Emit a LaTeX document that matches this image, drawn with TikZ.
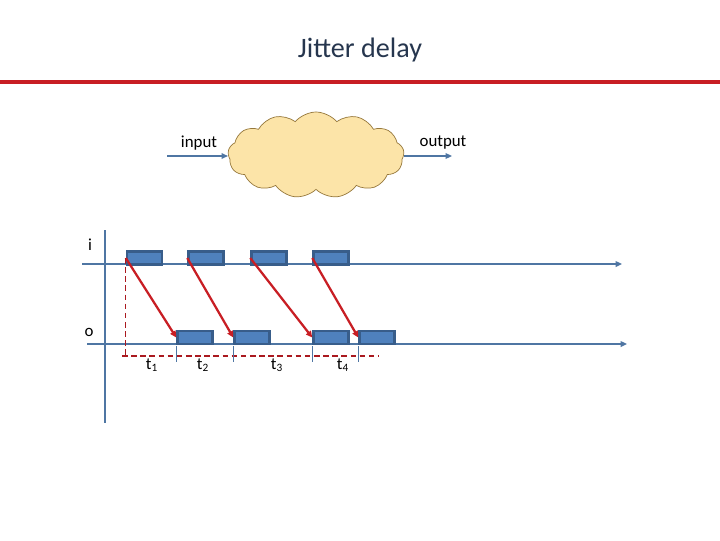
\documentclass[tikz,border=0pt]{standalone}
\usepackage{fontspec}
\setmainfont{Carlito}
\usepackage{xcolor}
\usepackage{tikz}
\usetikzlibrary{arrows.meta,positioning,shapes.symbols,calc}

\definecolor{axisblue}{RGB}{79,118,163}
\definecolor{boxfill}{RGB}{79,129,189}
\definecolor{boxline}{RGB}{56,93,138}
\definecolor{jitred}{RGB}{200,30,36}
\definecolor{cloudfill}{RGB}{252,228,168}
\definecolor{cloudline}{RGB}{150,120,60}
\definecolor{titlecol}{RGB}{38,54,78}

\begin{document}
\begin{tikzpicture}[x=0.025cm, y=-0.025cm,
    axis/.style={draw=axisblue, line width=1.4pt},
    arr/.style={axis, -{Triangle[length=1.6mm, width=1.4mm]}},
    pkt/.style={draw=boxline, fill=boxfill, line width=1.6pt,
                minimum width=0.88cm, minimum height=0.33cm, inner sep=0pt},
    delay/.style={draw=jitred, line width=1.6pt, -{Triangle[length=1.6mm, width=1.5mm]}},
    guide/.style={draw=jitred!85!black, dash pattern=on 4pt off 2.5pt, line width=0.75pt},
    tick/.style={draw=axisblue, line width=0.6pt},
    lbl/.style={font=\fontsize{12}{14}\selectfont, inner sep=1pt},
  ]
    \useasboundingbox (0,0) rectangle (720,540);

    % title and rule
    \node[font=\fontsize{20}{24}\selectfont, text=titlecol] (title) at (360,50) {Jitter delay};
    \coordinate (ruleL) at (0,82);
    \coordinate (ruleR) at (720,82);
    \draw[jitred, line width=2.2pt] (ruleL) -- (ruleR);

    % network cloud
    \node[cloud, cloud puffs=13, cloud puff arc=100, aspect=2.4, draw=cloudline,
          fill=cloudfill, line width=0.5pt, minimum width=4.4cm,
          minimum height=2.15cm, inner sep=0pt] (net) at (316,155) {};
    \coordinate (inS) at (167,156);
    \coordinate (outE) at (452,156);
    \draw[arr, line width=1pt] (inS) -- (net.west |- inS);
    \draw[arr, line width=1pt] (net.east |- outE) -- (outE);
    \node[lbl] (inlbl) at (199,143) {input};
    \node[lbl] (outlbl) at (443,143) {output};

    % axes
    \coordinate (vT) at (105,230);
    \coordinate (vB) at (105,423);
    \draw[axis] (vT) -- (vB);
    \coordinate (iL) at (82,264);
    \coordinate (iR) at (622,264);
    \coordinate (oL) at (87,344);
    \coordinate (oR) at (627,344);
    \draw[arr] (iL) -- (iR);
    \draw[arr] (oL) -- (oR);
    \node[lbl] (ilbl) at (90,245) {i};
    \node[lbl] (olbl) at (89,332) {o};

    % packets sent
    \node[pkt] (in1) at (144.5,258) {};
    \node[pkt] (in2) at (206,258) {};
    \node[pkt] (in3) at (269,258) {};
    \node[pkt] (in4) at (331,258) {};
    % packets received
    \node[pkt] (out1) at (195,337.5) {};
    \node[pkt] (out2) at (252,337.5) {};
    \node[pkt] (out3) at (331,337.5) {};
    \node[pkt] (out4) at (377,337.5) {};

    \foreach \k in {1,2,3,4}
      \draw[delay] (in\k.west) -- (out\k.west);

    % measured gaps
    \coordinate (gL) at (122,356);
    \coordinate (gR) at (378,356);
    \draw[guide] (in1.west) -- (in1.west |- gL);
    \draw[guide] (gL) -- (gR);
    \foreach \k in {1,2,3,4}
      \draw[tick] ($(out\k.west |- gL)+(0,-10)$) -- ($(out\k.west |- gL)+(0,6)$);

    \node[lbl] (t1) at (152,365) {t\textsubscript{1}};
    \node[lbl] (t2) at (203,365) {t\textsubscript{2}};
    \node[lbl] (t3) at (277,365) {t\textsubscript{3}};
    \node[lbl] (t4) at (343,365) {t\textsubscript{4}};
  \end{tikzpicture}
\end{document}
